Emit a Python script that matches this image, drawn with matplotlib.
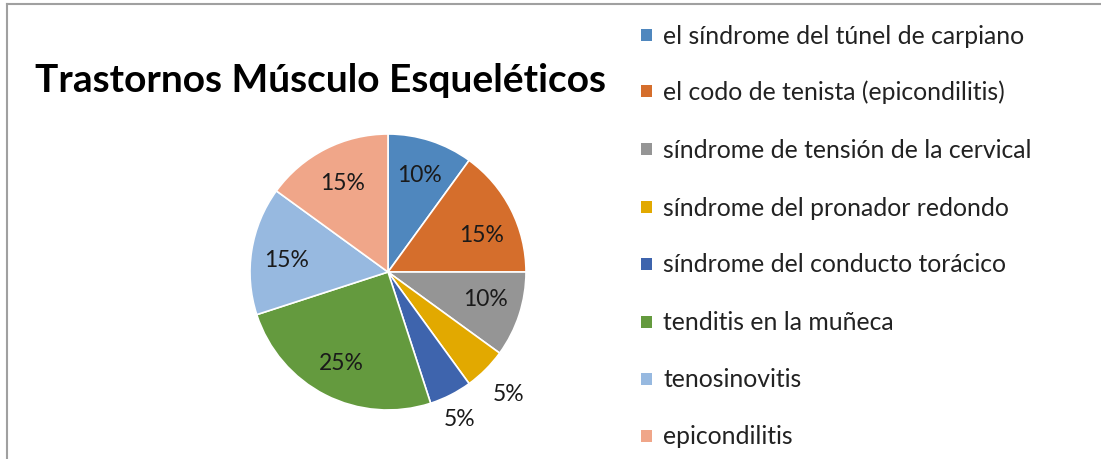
import matplotlib
matplotlib.use("Agg")
import matplotlib.pyplot as plt
from matplotlib.lines import Line2D
import numpy as np

categories = [
    "el síndrome del túnel de carpiano",
    "el codo de tenista (epicondilitis)",
    "síndrome de tensión de la cervical",
    "síndrome del pronador redondo",
    "síndrome del conducto torácico",
    "tenditis en la muñeca",
    "tenosinovitis",
    "epicondilitis",
]
values = [10, 15, 10, 5, 5, 25, 15, 15]
colors = ["#4F87BE", "#D56E2C", "#959595", "#E2A900", "#3E64AD",
          "#649A3E", "#97B9E0", "#F0A689"]
title = "Trastornos Músculo Esqueléticos"

plt.rcParams['font.family'] = ['Lato', 'DejaVu Sans']

W, H = 1101, 460
fig = plt.figure(figsize=(W / 100, H / 100), dpi=100)

# frame lines (top and left)
fig.add_artist(Line2D([7 / W, 7 / W], [0, 1 - 5 / H], color="#A0A0A0", lw=1.5, transform=fig.transFigure))
fig.add_artist(Line2D([7 / W, 1], [1 - 5 / H, 1 - 5 / H], color="#A0A0A0", lw=1.5, transform=fig.transFigure))

cx, cy, r = 388, 273, 138
ax = fig.add_axes([(cx - r) / W, 1 - (cy + r) / H, 2 * r / W, 2 * r / H])
wedges, _ = ax.pie(values, colors=colors, startangle=90, counterclock=False,
                   radius=1.0, wedgeprops=dict(edgecolor="white", linewidth=1.2))
ax.set_xlim(-1, 1)
ax.set_ylim(-1, 1)
ax.set_aspect("equal")
ax.axis("off")

# data label placement (radius fraction, angle nudge in degrees)
label_r = [0.74, 0.73, 0.73, 1.24, 1.18, 0.74, 0.74, 0.73]
label_da = [0, -5, 3, 0, -1, 0, 2, 0]
total = sum(values)
cum = 0
for v, lr, da in zip(values, label_r, label_da):
    mid = 90 - (cum + v / 2) / total * 360 + da
    cum += v
    x = lr * np.cos(np.radians(mid))
    y = lr * np.sin(np.radians(mid))
    ax.text(x, y, f"{v}%", ha="center", va="center", fontsize=16.5, color="#1a1a1a",
            clip_on=False)

fig.text(35 / W, 1 - 81 / H, title, fontsize=28, fontweight="bold", ha="left",
         va="center", color="#000000")

leg_y = [36, 92, 150, 208, 265, 323, 380, 437]
for c, lab, yy in zip(colors, categories, leg_y):
    fig.patches.append(plt.Rectangle((641 / W, 1 - (yy + 6) / H), 11 / W, 12 / H,
                                     facecolor=c, edgecolor="none", transform=fig.transFigure))
    fig.text(663 / W, 1 - yy / H, lab, fontsize=17.8, ha="left", va="center", color="#222222")

fig.savefig("out.png", dpi=100, facecolor="white")
